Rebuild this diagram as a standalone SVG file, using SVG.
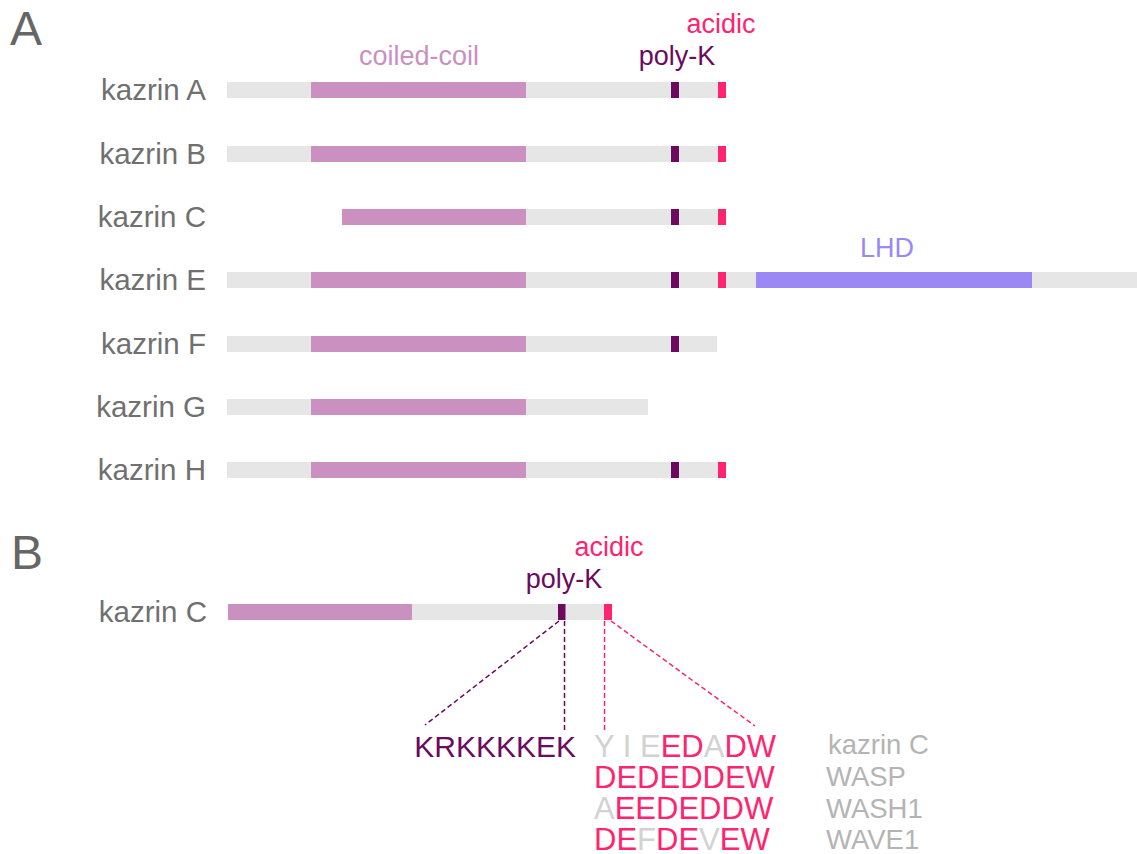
<svg xmlns="http://www.w3.org/2000/svg" width="1137" height="854" viewBox="0 0 1137 854">
<style>
text{font-family:"Liberation Sans",Arial,sans-serif}
.panel{font-size:48px;fill:#666666}
.lbl{font-size:29.5px;fill:#707070;text-anchor:end}
.ann{font-size:27px;text-anchor:middle}
.bg{fill:#e6e6e6}
.cc{fill:#c990c0}
.pk{fill:#6b0a5e}
.ac{fill:#ff2470}
.lhd{fill:#9b88f5}
.seq{font-size:31px}
.g{fill:#d2d2d2}
.p{fill:#ff2470}
.nm{font-size:27.5px;fill:#b4b4b4}
.dp{stroke:#6b0a5e;stroke-width:1.5;stroke-dasharray:5 3;fill:none}
.da{stroke:#ff2470;stroke-width:1.5;stroke-dasharray:5 3;fill:none}
</style>
<rect width="1137" height="854" fill="#ffffff"/>
<text class="panel" x="10" y="45">A</text>
<text class="panel" x="11" y="569">B</text>
<g id="annotations-A">
<text class="ann" x="419" y="65" fill="#c990c0">coiled-coil</text>
<text class="ann" x="677" y="65" fill="#6b0a5e">poly-K</text>
<text class="ann" x="721" y="33" fill="#ff2470">acidic</text>
<text class="ann" x="887" y="257" fill="#9b88f5">LHD</text>
</g>
<g id="kazrinA">
<text class="lbl" x="206" y="100">kazrin A</text>
<rect class="bg" x="227" y="82" width="499" height="16"/>
<rect class="cc" x="311" y="82" width="215" height="16"/>
<rect class="pk" x="671" y="82" width="8" height="16"/>
<rect class="ac" x="718" y="82" width="8" height="16"/>
</g>
<g id="kazrinB">
<text class="lbl" x="206" y="164">kazrin B</text>
<rect class="bg" x="227" y="146" width="499" height="16"/>
<rect class="cc" x="311" y="146" width="215" height="16"/>
<rect class="pk" x="671" y="146" width="8" height="16"/>
<rect class="ac" x="718" y="146" width="8" height="16"/>
</g>
<g id="kazrinC">
<text class="lbl" x="206" y="227">kazrin C</text>
<rect class="bg" x="526" y="209" width="200" height="16"/>
<rect class="cc" x="342" y="209" width="184" height="16"/>
<rect class="pk" x="671" y="209" width="8" height="16"/>
<rect class="ac" x="718" y="209" width="8" height="16"/>
</g>
<g id="kazrinE">
<text class="lbl" x="206" y="290">kazrin E</text>
<rect class="bg" x="227" y="272" width="910" height="16"/>
<rect class="cc" x="311" y="272" width="215" height="16"/>
<rect class="pk" x="671" y="272" width="8" height="16"/>
<rect class="ac" x="718" y="272" width="8" height="16"/>
<rect class="lhd" x="756" y="272" width="276" height="16"/>
</g>
<g id="kazrinF">
<text class="lbl" x="206" y="354">kazrin F</text>
<rect class="bg" x="227" y="336" width="490" height="16"/>
<rect class="cc" x="311" y="336" width="215" height="16"/>
<rect class="pk" x="671" y="336" width="8" height="16"/>
</g>
<g id="kazrinG">
<text class="lbl" x="206" y="417">kazrin G</text>
<rect class="bg" x="227" y="399" width="421" height="16"/>
<rect class="cc" x="311" y="399" width="215" height="16"/>
</g>
<g id="kazrinH">
<text class="lbl" x="206" y="480">kazrin H</text>
<rect class="bg" x="227" y="462" width="499" height="16"/>
<rect class="cc" x="311" y="462" width="215" height="16"/>
<rect class="pk" x="671" y="462" width="8" height="16"/>
<rect class="ac" x="718" y="462" width="8" height="16"/>
</g>
<g id="annotations-B">
<text class="ann" x="564" y="588" fill="#6b0a5e">poly-K</text>
<text class="ann" x="609" y="556" fill="#ff2470">acidic</text>
</g>
<g id="kazrinC-B">
<text class="lbl" x="207" y="622">kazrin C</text>
<rect class="bg" x="228" y="604" width="378" height="16"/>
<rect class="cc" x="228" y="604" width="184" height="16"/>
<rect class="pk" x="558" y="604" width="7.5" height="16"/>
<rect class="ac" x="604" y="604" width="8" height="16"/>
</g>
<g id="connectors">
<line class="dp" x1="559" y1="621" x2="425" y2="725"/>
<line class="dp" x1="564.5" y1="621" x2="564.5" y2="733"/>
<line class="da" x1="604.5" y1="621" x2="604.5" y2="733"/>
<line class="da" x1="611" y1="621" x2="755" y2="726"/>
</g>
<g id="sequences">
<text class="seq" x="576" y="757" text-anchor="end" fill="#6b0a5e" style="font-size:30px">KRKKKKEK</text>
<text class="seq" x="594" y="757" xml:space="preserve"><tspan class="g">Y I E</tspan><tspan class="p">ED</tspan><tspan class="g">A</tspan><tspan class="p">DW</tspan></text>
<text class="seq" x="594" y="788"><tspan class="p">DEDEDDEW</tspan></text>
<text class="seq" x="594" y="819"><tspan class="g">A</tspan><tspan class="p">EEDEDDW</tspan></text>
<text class="seq" x="594" y="850"><tspan class="p">DE</tspan><tspan class="g">F</tspan><tspan class="p">DE</tspan><tspan class="g">V</tspan><tspan class="p">EW</tspan></text>
<text class="nm" x="828" y="754">kazrin C</text>
<text class="nm" x="826" y="786">WASP</text>
<text class="nm" x="826" y="818">WASH1</text>
<text class="nm" x="826" y="849">WAVE1</text>
</g>
</svg>
